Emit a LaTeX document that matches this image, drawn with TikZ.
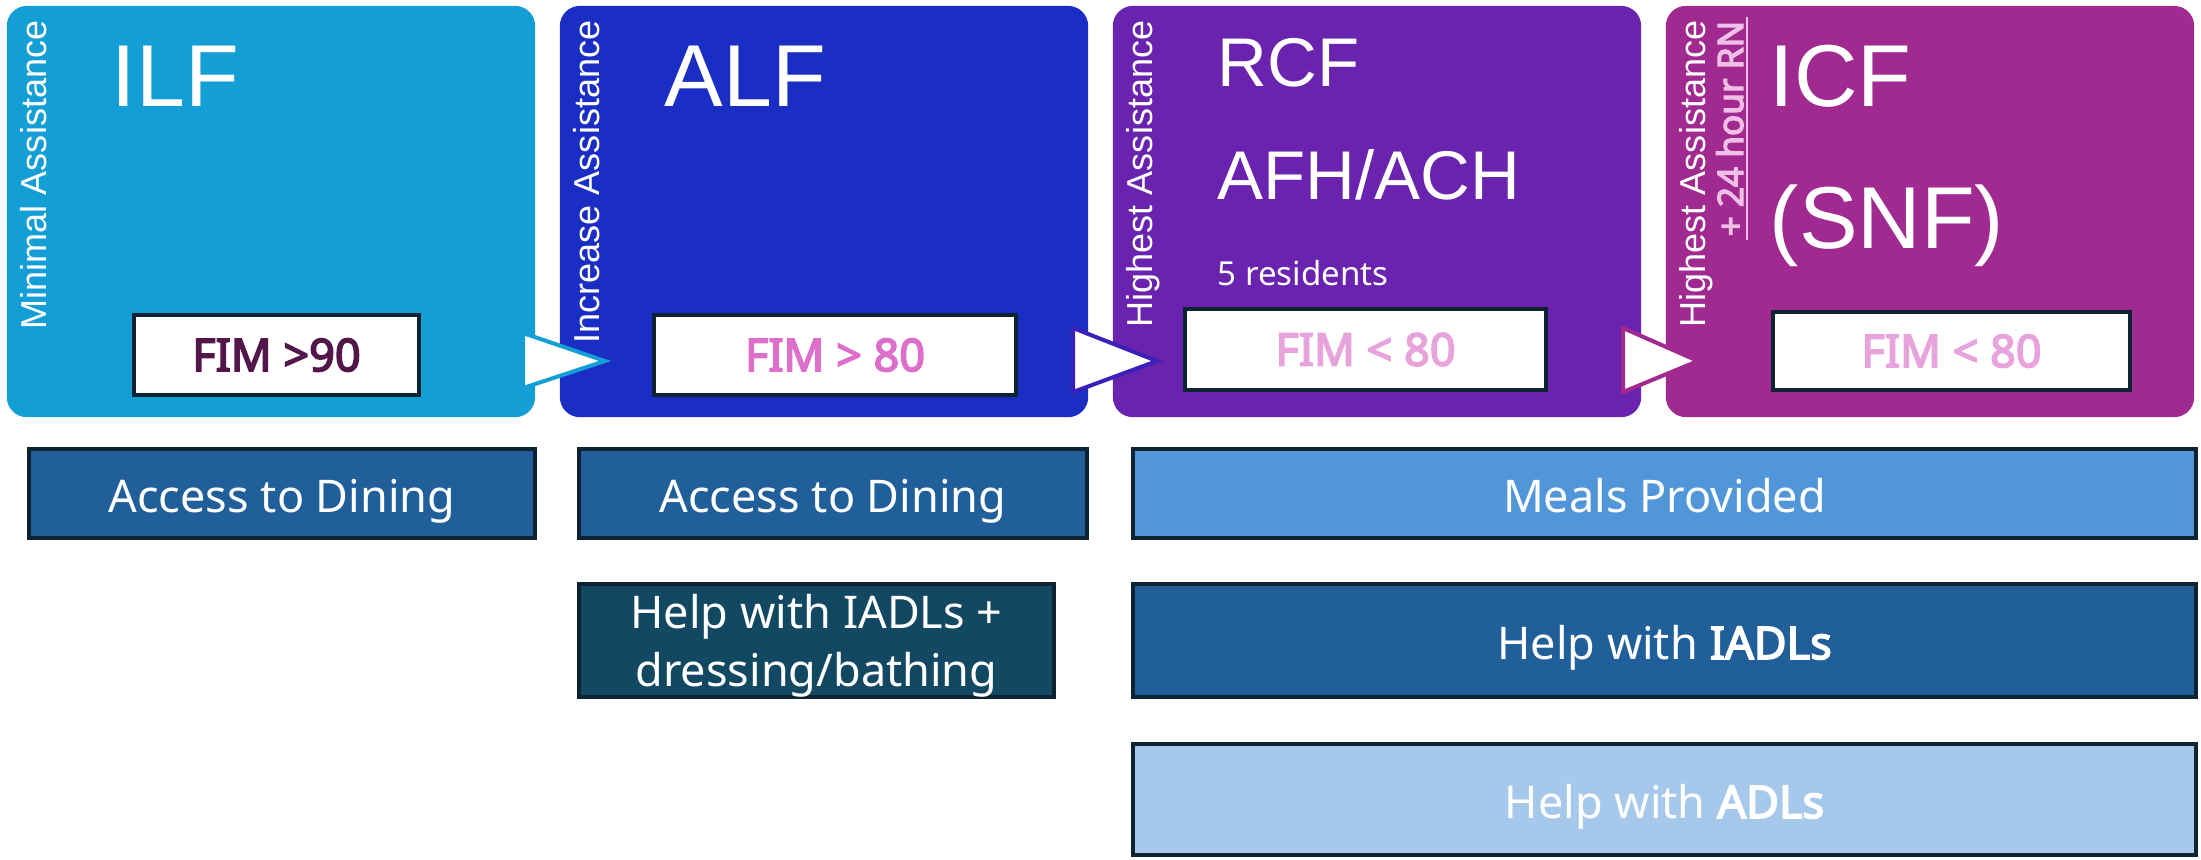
\documentclass[tikz,border=0pt]{standalone}
\usepackage{fontspec}
\usepackage{xcolor}
\setmainfont{Liberation Sans}
\newfontfamily\aptos{Noto Sans}[BoldFont={Noto Sans}, BoldFeatures={FakeBold=3.6}]
\definecolor{ilfblue}{HTML}{139FD6}
\definecolor{alfblue}{HTML}{1B2EC3}
\definecolor{rcfpurple}{HTML}{6923AF}
\definecolor{icfmagenta}{HTML}{A02A90}
\definecolor{arrowviolet}{HTML}{3A20B8}
\definecolor{edgenavy}{HTML}{0D2331}
\definecolor{steelblue}{HTML}{215F9A}
\definecolor{deepteal}{HTML}{134862}
\definecolor{skyblue}{HTML}{5096D8}
\definecolor{paleblue}{HTML}{A6C9EB}
\definecolor{fimplum}{HTML}{52164B}
\definecolor{fimpink}{HTML}{DD6FCB}
\definecolor{fimrose}{HTML}{E8A3DC}
\definecolor{rnpink}{HTML}{EFBFE6}
\newcommand{\stagew}{5.28cm}
\newcommand{\stageh}{4.11cm}
\newcommand{\edgew}{1.14pt}

\begin{document}
\begin{tikzpicture}[x=0.01cm, y=-0.01cm,
    stage/.style={fill=#1, rounded corners=0.2cm, minimum width=\stagew, minimum height=\stageh, inner sep=0},
    side/.style={rotate=90, anchor=base east, inner sep=0, text=white, font=\fontsize{10.25}{12}\selectfont},
    title/.style={anchor=base west, inner sep=0, text=white, font=\fontsize{25}{30}\selectfont},
    subtitle/.style={anchor=base west, inner sep=0, text=white, font=\fontsize{19.6}{24}\selectfont},
    fim/.style={draw=edgenavy, line width=\edgew, fill=white, inner sep=0, font=\aptos\bfseries\fontsize{12.8}{15}\selectfont},
    service/.style={draw=edgenavy, line width=\edgew, inner sep=0, text=white, align=center, text depth=0cm, font=\aptos\fontsize{12.8}{16.5}\selectfont},
    oneline/.style={service, text height=0.37cm},
    chevron/.style={draw=#1, fill=white, line width=\edgew, line join=miter}]
    \useasboundingbox (0,0) rectangle (2201,859);

    % stages
    \node[stage=ilfblue] (ilf) at (271,211.5) {};
    \node[stage=alfblue] (alf) at (824,211.5) {};
    \node[stage=rcfpurple] (rcf) at (1377,211.5) {};
    \node[stage=icfmagenta] (icf) at (1930,211.5) {};

    % arrows between stages
    \coordinate (a1top) at (523,333);
    \coordinate (a1bot) at (523,388);
    \coordinate (a1tip) at (605,361);
    \coordinate (a2top) at (1073,328);
    \coordinate (a2bot) at (1073,392);
    \coordinate (a2tip) at (1157,361);
    \coordinate (a3top) at (1623,328);
    \coordinate (a3bot) at (1623,392);
    \coordinate (a3tip) at (1698,361);
    \filldraw[chevron=ilfblue] (a1top) -- (a1tip) -- (a1bot) -- cycle;
    \filldraw[chevron=arrowviolet] (a2top) -- (a2tip) -- (a2bot) -- cycle;
    \filldraw[chevron=icfmagenta] (a3top) -- (a3tip) -- (a3bot) -- cycle;

    % side labels
    \node[side] (ilfside) at (46.5,20) {Minimal Assistance};
    \node[side] (alfside) at (599.5,20) {Increase Assistance};
    \node[side] (rcfside) at (1152.5,20) {Highest Assistance};
    \node[side] (icfside) at (1705.5,20) {Highest Assistance};
    \node[side, text=rnpink, font=\aptos\bfseries\fontsize{10}{12}\selectfont] (rn) at (1743,20) {+ 24 hour RN};
    \draw[rnpink, line width=0.6pt] ([xshift=0.025cm, yshift=-0.03cm]rn.south west) -- ([xshift=0.025cm, yshift=0.03cm]rn.south east);

    % names
    \node[title] (ilfname) at (111,106) {ILF};
    \node[title] (alfname) at (664,106) {ALF};
    \node[subtitle] (rcfname) at (1217,86) {RCF};
    \node[subtitle] (afhname) at (1217,199) {AFH/ACH};
    \node[anchor=base west, inner sep=0, text=white, font=\aptos\fontsize{9.4}{11}\selectfont] (rcfsize) at (1217,285) {5 residents};
    \node[title] (icfname) at (1769,106) {ICF};
    \node[title] (snfname) at (1769,248) {(SNF)};

    % FIM scores
    \node[fim, minimum width=2.85cm, minimum height=0.80cm, text=fimplum] (ilffim) at (276.5,355) {FIM >90};
    \node[fim, minimum width=3.62cm, minimum height=0.80cm, text=fimpink] (alffim) at (835,355) {FIM > 80};
    \node[fim, minimum width=3.61cm, minimum height=0.81cm, text=fimrose] (rcffim) at (1365.5,349.5) {FIM < 80};
    \node[fim, minimum width=3.57cm, minimum height=0.78cm, text=fimrose] (icffim) at (1951.5,351) {FIM < 80};

    % services
    \node[oneline, fill=steelblue, minimum width=5.06cm, minimum height=0.89cm] (ilfdine) at (282,493.5) {Access to Dining};
    \node[oneline, fill=steelblue, minimum width=5.08cm, minimum height=0.89cm] (alfdine) at (833,493.5) {Access to Dining};
    \node[service, fill=deepteal, minimum width=4.75cm, minimum height=1.13cm] (alfhelp) at (816.5,640.5) {Help with IADLs +\\dressing/bathing};
    \node[oneline, fill=skyblue, minimum width=10.63cm, minimum height=0.89cm] (meals) at (1664.5,493.5) {Meals Provided};
    \node[oneline, fill=steelblue, minimum width=10.63cm, minimum height=1.13cm] (iadl) at (1664.5,640.5) {Help with \textbf{IADLs}};
    \node[oneline, fill=paleblue, minimum width=10.63cm, minimum height=1.11cm] (adl) at (1664.5,799.5) {Help with \textbf{ADLs}};
\end{tikzpicture}
\end{document}
